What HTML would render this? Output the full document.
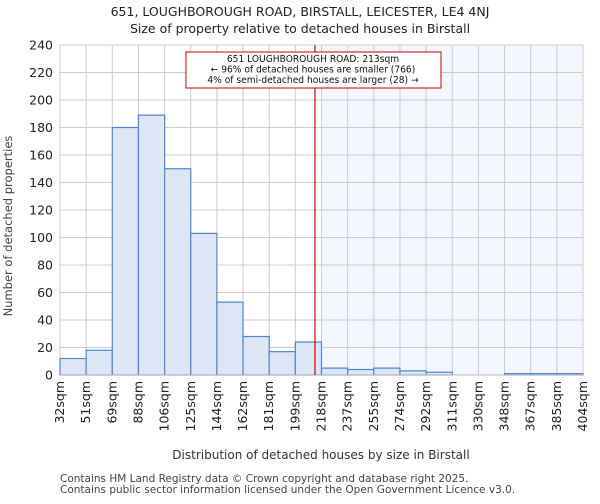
<!DOCTYPE html>
<html><head><meta charset="utf-8"><style>
body{margin:0;background:#fff;font-family:"DejaVu Sans","Liberation Sans",sans-serif}
</style></head><body>
<svg id="c" width="600" height="500" xmlns="http://www.w3.org/2000/svg" font-family="DejaVu Sans, Liberation Sans, sans-serif">
<text x="300" y="16" text-anchor="middle" font-size="12.5" fill="#222">651, LOUGHBOROUGH ROAD, BIRSTALL, LEICESTER, LE4 4NJ</text>
<text x="300" y="33" text-anchor="middle" font-size="12.5" fill="#222">Size of property relative to detached houses in Birstall</text>
<g id="plot"></g>
<text transform="translate(12,226) rotate(-90)" text-anchor="middle" font-size="11.5" fill="#444">Number of detached properties</text>
<text x="321" y="459" text-anchor="middle" font-size="12" fill="#333">Distribution of detached houses by size in Birstall</text>
<text x="60" y="482" font-size="10.5" fill="#444">Contains HM Land Registry data © Crown copyright and database right 2025.</text>
<text x="60" y="493" font-size="10.5" fill="#444">Contains public sector information licensed under the Open Government Licence v3.0.</text>
</svg>
<script>
const categories=["32sqm","51sqm","69sqm","88sqm","106sqm","125sqm","144sqm","162sqm","181sqm","199sqm","218sqm","237sqm","255sqm","274sqm","292sqm","311sqm","330sqm","348sqm","367sqm","385sqm","404sqm"];
const counts=[12,18,180,189,150,103,53,28,17,24,5,4,5,3,2,0,0,1,1,1];
const yTicks=[0,20,40,60,80,100,120,140,160,180,200,220,240];
const propertyBin=9.75;
const NS="http://www.w3.org/2000/svg";
const L=60,R=583,T=45,B=375,yMax=240;
const bw=(R-L)/counts.length;
const xs=i=>L+i*bw;
const ys=v=>B-(v/yMax)*(B-T);
const g=document.getElementById('plot');
function el(t,a,p){const e=document.createElementNS(NS,t);for(const k in a)e.setAttribute(k,a[k]);(p||g).appendChild(e);return e;}
let e;
e=el('rect',{x:xs(10),y:T,width:R-xs(10),height:B-T,fill:'#f3f6fd'});


yTicks.forEach(v=>{
 e=el('line',{x1:L,x2:R,y1:ys(v),y2:ys(v),stroke:'#cccccc'});
 
 
 e=el('text',{x:L-7,y:ys(v)+4.5,'text-anchor':'end','font-size':'12.5',fill:'#222'});
 e.textContent=v;
 
 
});
categories.forEach((c,i)=>{
 e=el('line',{x1:xs(i),x2:xs(i),y1:T,y2:B,stroke:'#cccccc'});
 
 
 const x=xs(i)+4;
 e=el('text',{transform:`translate(${x},${B+6}) rotate(-90)`,'text-anchor':'end','font-size':'12.5',fill:'#222'});
 e.textContent=c;
 
 
});
counts.forEach((v,i)=>{
 if(v<=0)return;
 e=el('rect',{x:xs(i),y:ys(v),width:bw,height:B-ys(v),fill:'#dce6f4',stroke:'#4f86d6','stroke-width':1.2});
 
 
});
e=el('line',{x1:L,x2:R,y1:B,y2:B,stroke:'#bbb'});


const px=xs(propertyBin);
e=el('line',{x1:px,x2:px,y1:T,y2:B,stroke:'#cc0000','stroke-width':1.2});


const ag=el('g',{});


el('rect',{x:186,y:52,width:255,height:36,fill:'#fff',stroke:'#cc0000','stroke-width':1},ag);
["651 LOUGHBOROUGH ROAD: 213sqm","← 96% of detached houses are smaller (766)","4% of semi-detached houses are larger (28) →"].forEach((t,i)=>{
 e=el('text',{x:313,y:62+i*10.5,'text-anchor':'middle','font-size':'9.5',fill:'#111',transform:'translate(313,0) scale(0.96,1) translate(-313,0)'},ag);
 e.textContent=t;
 
 
});
</script>
</body></html>
